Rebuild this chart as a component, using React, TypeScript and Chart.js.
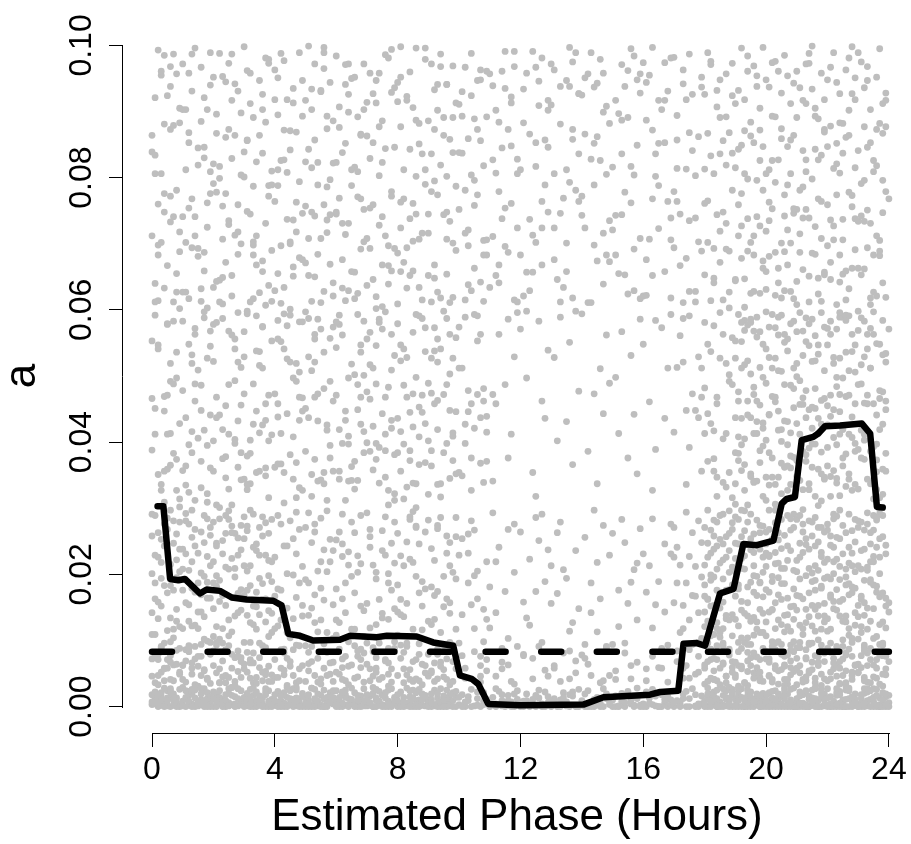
import React, { useEffect, useRef } from 'react';
import { Chart, registerables } from 'chart.js';

Chart.register(...registerables);

const FONT = '"Liberation Sans", Arial, Helvetica, sans-serif';

const xTickValues = [0, 4, 8, 12, 16, 20, 24];
const yTickValues = [0, 0.02, 0.04, 0.06, 0.08, 0.1];
const yTickLabels = ['0.00', '0.02', '0.04', '0.06', '0.08', '0.10'];
const xTitle = 'Estimated Phase (Hours)';
const yTitle = 'a';

// smoothed trend (black solid line)
const trendPhase = [0.18, 0.37, 0.59, 0.86, 1.07, 1.56, 1.78, 2.21, 2.6, 3.08, 3.95, 4.22, 4.44, 4.82, 5.25, 6.12, 6.45, 7.32, 7.65, 8.62, 9.16, 9.81, 10.03, 10.41, 10.63, 10.95, 11.99, 14.05, 14.7, 16.22, 16.55, 17.14, 17.31, 17.74, 18.01, 18.5, 18.94, 19.26, 19.7, 20.24, 20.51, 20.67, 20.94, 21.16, 21.54, 21.7, 21.92, 22.41, 23.12, 23.39, 23.61, 23.8];
const trendA = [0.0303, 0.0303, 0.0193, 0.0191, 0.0193, 0.0171, 0.0177, 0.0175, 0.0165, 0.0162, 0.016, 0.0153, 0.011, 0.0107, 0.01, 0.0101, 0.0107, 0.0105, 0.0107, 0.0106, 0.0097, 0.0092, 0.0047, 0.0042, 0.0034, 0.0004, 0.0002, 0.0003, 0.0014, 0.0018, 0.0022, 0.0024, 0.0095, 0.0096, 0.0092, 0.0171, 0.0178, 0.0246, 0.0244, 0.0251, 0.0307, 0.0314, 0.0317, 0.0403, 0.0408, 0.0413, 0.0424, 0.0425, 0.0428, 0.0413, 0.0302, 0.0301];

// dashed reference level
const thresholdPhase = [0, 24];
const thresholdA = [0.0083, 0.0083];

// scatter points as flat pairs: phase (tenths of an hour), a (units of 0.0001)
const topBand = [
0,712, 3,955, 1,640, 6,873, 8,781, 2,993, 5,667, 9,905, 4,748, 7,612, 0,839, 3,702, 6,968, 1,806, 8,655, 5,924, 2,760, 9,688, 4,881, 7,987, 2,614, 6,733,
13,694, 17,921, 11,627, 15,845, 19,776, 12,958, 18,603, 14,712, 16,885, 10,741, 13,987, 17,659, 11,812, 19,940, 15,681, 12,868, 18,725, 14,996, 16,632, 10,903, 13,768, 17,830,
22,645, 26,917, 21,778, 28,684, 24,861, 20,952, 27,713, 23,609, 29,804, 25,735, 22,988, 26,652, 21,896, 28,931, 24,672, 20,821, 27,864, 23,757, 29,700, 25,973, 22,799, 26,621,
33,703, 37,884, 31,962, 35,626, 39,810, 32,745, 38,979, 34,668, 36,903, 30,839, 33,617, 37,731, 31,856, 39,690, 35,947, 32,912, 38,772, 34,824, 36,658, 30,998, 33,787, 37,607,
41,655, 45,842, 43,977, 47,718, 49,893, 40,764, 42,610, 46,935, 48,679, 44,808, 41,951, 45,700, 43,634, 47,869, 49,746, 40,918, 42,826, 46,665, 48,989, 44,737, 41,788, 45,601,
52,903, 56,628, 54,789, 58,944, 50,671, 53,857, 57,736, 51,999, 55,611, 59,822, 52,748, 56,965, 54,684, 58,797, 50,917, 53,650, 57,874, 51,708, 55,930, 59,641, 52,815, 56,759,
63,614, 67,892, 61,769, 65,950, 69,703, 62,838, 66,657, 60,984, 64,731, 68,866, 63,941, 67,625, 61,907, 65,788, 69,972, 62,676, 66,816, 60,745, 64,899, 68,692, 63,852, 67,771,
74,803, 78,659, 72,927, 76,712, 70,863, 73,620, 77,981, 71,754, 75,886, 79,693, 74,958, 78,779, 72,646, 76,844, 70,708, 73,913, 77,667, 71,829, 75,605, 79,936, 74,728, 78,994,
81,724, 85,906, 83,633, 87,851, 89,979, 80,686, 82,812, 86,745, 84,960, 88,615, 81,877, 85,659, 83,923, 87,707, 89,790, 80,944, 82,672, 86,887, 84,738, 88,836, 81,998, 85,761,
92,668, 96,941, 94,819, 98,701, 90,886, 93,627, 97,858, 91,972, 95,744, 99,913, 92,795, 96,654, 94,987, 98,838, 90,716, 93,902, 97,611, 91,779, 95,864, 99,690, 92,933, 96,748,
103,721, 107,948, 101,837, 105,663, 109,892, 102,615, 106,774, 100,911, 104,988, 108,705, 103,859, 107,642, 101,930, 105,796, 109,683, 102,967, 106,873, 100,752, 104,629, 108,818,
112,902, 116,687, 114,845, 118,968, 110,634, 113,779, 117,922, 111,711, 115,991, 119,806, 112,652, 116,873, 114,738, 118,615, 110,957, 113,884, 117,761, 111,939, 115,696, 119,828,
121,934, 125,702, 123,866, 127,981, 129,748, 120,812, 122,657, 126,909, 124,991, 128,789, 121,621, 125,853, 123,737, 127,668, 129,917, 122,958,
133,881, 137,975, 131,724, 135,947, 139,836, 132,646, 136,793, 130,910, 134,769, 138,989, 133,612, 137,858, 131,963, 135,701, 139,927, 136,938,
142,957, 146,826, 144,698, 148,908, 140,772, 143,989, 147,639, 141,866, 145,943, 149,735, 142,611, 146,979, 144,852, 148,683, 140,925, 147,899,
151,743, 155,962, 153,887, 157,692, 159,928, 150,816, 152,655, 156,995, 154,778, 158,849, 151,917, 155,624, 153,971, 157,804, 159,708, 154,938,
163,872, 167,658, 161,944, 165,788, 169,981, 162,707, 166,903, 160,621, 164,836, 168,764, 163,997, 167,917, 161,676, 165,852, 169,739, 162,955,
172,745, 176,926, 174,678, 178,862, 170,982, 173,611, 177,803, 171,894, 175,735, 179,952, 172,667, 176,841, 174,918, 178,703, 170,779, 173,963, 177,628, 171,814, 175,987, 179,689,
181,702, 185,891, 183,648, 187,957, 189,781, 180,926, 182,833, 186,615, 184,744, 188,868, 181,989, 185,672, 183,806, 187,731, 189,924, 180,653, 182,971, 186,856, 184,907, 188,627, 181,765, 185,948, 183,693, 187,819,
192,678, 196,853, 194,961, 198,727, 190,815, 193,604, 197,938, 191,759, 195,884, 199,663, 192,996, 196,712, 194,798, 198,905, 190,646, 193,871, 197,741, 191,932, 195,625, 199,847, 192,776, 196,969, 194,689, 198,826,
203,622, 207,789, 201,937, 205,701, 209,864, 202,753, 206,985, 200,658, 204,827, 208,912, 203,687, 207,954, 201,735, 205,859, 209,617, 202,893, 206,774, 200,948, 204,641, 208,806, 203,976, 207,668, 201,812, 205,928, 209,746, 206,629,
212,661, 216,843, 214,973, 218,708, 210,891, 213,752, 217,624, 211,936, 215,798, 219,869, 212,917, 216,684, 214,739, 218,958, 210,643, 213,827, 217,889, 211,715, 215,999, 219,653, 212,786, 216,905, 214,612, 218,834, 210,961, 217,768,
221,878, 225,706, 223,944, 227,632, 229,815, 220,759, 222,989, 226,861, 224,683, 228,927, 221,646, 225,837, 223,774, 227,902, 229,691, 220,948, 222,727, 226,615, 224,883, 228,756, 221,967, 225,654, 223,852, 227,981, 229,738, 224,807,
232,734, 236,952, 234,618, 238,867, 231,791, 235,683, 239,928, 233,846, 237,705, 230,989, 232,662, 236,818, 234,903, 238,747, 231,975, 235,627, 239,779, 233,694, 237,882, 230,841, 232,936, 236,712, 234,853, 238,641, 240,768, 237,995,
];

const midBand = [
1,412, 5,578, 3,336, 8,497, 6,365, 2,541, 9,428, 4,309, 7,583, 0,466, 2,351, 6,519, 9,302, 4,447, 1,592, 7,383, 5,471, 8,327,
12,548, 16,371, 14,462, 18,309, 10,583, 13,416, 17,597, 11,335, 15,509, 19,441, 12,324, 16,486, 14,563, 18,395, 10,357, 13,532, 17,418, 19,568,
21,468, 25,329, 23,587, 27,404, 29,513, 20,356, 22,441, 26,562, 24,378, 28,596, 21,305, 25,487, 23,419, 27,541, 29,343, 20,578, 24,455, 28,362,
32,383, 36,574, 34,447, 38,316, 30,529, 33,488, 37,361, 31,598, 35,414, 39,553, 32,337, 36,426, 34,591, 38,471, 30,344, 35,516, 37,433, 31,379,
43,541, 47,369, 41,458, 45,592, 49,327, 42,413, 46,497, 40,362, 44,576, 48,433, 43,308, 47,519, 41,584, 45,381, 49,467, 42,552, 46,344, 48,506,
54,432, 58,557, 52,318, 56,481, 50,597, 53,374, 57,426, 51,529, 55,343, 59,462, 54,586, 58,395, 52,508, 56,337, 50,451, 53,563, 57,312, 59,574,
61,356, 65,518, 63,447, 67,593, 69,384, 60,471, 62,562, 66,329, 64,409, 68,536, 61,578, 65,363, 63,312, 67,449, 69,501, 60,582, 64,341, 68,427,
72,512, 76,347, 74,586, 78,433, 70,399, 73,546, 77,305, 71,465, 75,571, 79,381, 72,424, 76,597, 74,338, 78,509, 70,556, 73,374, 77,483, 79,322,
83,468, 87,591, 81,356, 85,423, 89,537, 82,314, 86,498, 80,579, 84,387, 88,445, 83,332, 87,408, 81,523, 85,566, 89,369, 82,486, 86,301, 80,436,
94,541, 98,372, 92,458, 96,587, 90,321, 93,419, 97,503, 91,364, 95,598, 99,446, 94,337, 98,527, 92,573, 96,398, 90,489, 93,556, 97,345, 91,474,
102,398, 106,553, 104,327, 108,481, 100,574, 103,446, 107,368, 101,512, 105,593, 109,415, 104,458, 108,339,
113,563, 117,412, 111,341, 115,487, 119,596, 112,458, 116,376, 118,529,
122,497, 126,583, 124,354, 128,436, 120,571, 125,318, 127,462, 129,539,
131,528, 135,431, 133,589, 137,366, 139,477, 132,402, 136,551, 138,598,
144,473, 148,562, 142,386, 146,511, 140,594, 145,337, 147,443, 149,489,
153,567, 157,442, 151,498, 155,376, 159,586, 152,413, 156,531, 158,352,
162,461, 166,573, 164,389, 168,512, 160,548, 163,327, 167,436, 169,593,
171,513, 175,392, 173,587, 177,448, 179,356, 172,561, 176,473, 170,415, 174,336, 178,529, 175,591, 179,468,
182,428, 186,563, 184,347, 188,492, 180,581, 183,375, 187,519, 181,443, 185,596, 189,316, 182,537, 186,405, 184,468, 188,354, 180,413, 183,576, 187,332, 189,487,
191,476, 195,352, 193,584, 197,431, 199,318, 190,527, 192,396, 196,568, 194,441, 198,369, 191,593, 195,503, 193,327, 197,462, 199,548, 190,384, 192,512, 196,339, 194,577, 198,456, 191,408, 195,437, 193,366, 197,589, 199,421, 190,306, 192,552, 196,483,
201,441, 205,368, 203,527, 207,396, 209,583, 200,312, 202,469, 206,551, 204,347, 208,486, 201,574, 205,419, 203,306, 207,538, 209,452, 200,597, 202,376, 206,432, 204,508, 208,361, 201,335, 205,592, 203,468, 207,327, 209,377, 200,489, 204,562, 208,414,
212,386, 216,523, 214,449, 218,311, 210,567, 213,478, 217,359, 211,412, 215,586, 219,344, 212,531, 216,397, 214,328, 218,463, 210,499, 213,371, 217,547, 211,596, 215,421, 219,508, 212,457, 216,318, 214,579, 218,385, 210,348, 213,552, 217,436, 215,362,
221,348, 225,497, 223,571, 227,412, 229,336, 220,455, 222,528, 226,382, 224,319, 228,563, 221,439, 225,376, 223,484, 227,591, 229,458, 220,364, 222,407, 226,536, 224,472, 228,327, 221,583, 225,421, 223,345, 227,508, 229,398, 220,547, 224,589, 226,469,
232,412, 236,549, 234,337, 238,476, 231,588, 235,393, 239,521, 233,458, 237,316, 230,569, 232,374, 236,441, 234,512, 238,359, 231,427, 235,597, 239,383, 233,541, 237,466, 230,329, 232,583, 236,355, 234,403, 238,532, 231,488, 235,314, 239,449, 240,571,
];

const upperBandExtra = [
4,356, 8,627, 1,834, 6,492, 3,961, 9,718, 0,553, 5,412, 7,879, 2,683, 9,314, 4,776,
14,488, 18,762, 11,903, 16,331, 12,617, 19,545, 10,972, 15,693, 13,384, 17,846, 11,437, 19,989,
23,707, 27,398, 21,581, 25,873, 29,456, 20,634, 24,945, 28,521, 22,817, 26,305, 20,402, 28,759,
32,612, 36,926, 30,473, 34,354, 38,788, 31,857, 35,537, 39,411, 33,698, 37,981, 31,328, 36,575,
41,438, 45,703, 49,582, 43,872, 47,316, 40,963, 44,526, 48,794, 42,367, 46,651, 41,895, 49,447,
53,742, 57,418, 51,587, 55,932, 59,356, 50,824, 54,473, 58,669, 52,351, 56,997, 53,521, 57,786,
64,397, 68,864, 62,633, 66,502, 60,748, 63,971, 67,342, 61,419, 65,812, 69,583, 64,926, 68,468,
72,853, 76,468, 70,637, 74,392, 78,929, 71,566, 75,741, 79,312, 73,488, 77,697, 71,958, 76,387,
81,547, 85,338, 89,812, 83,694, 87,453, 80,915, 84,372, 88,587, 82,768, 86,996, 81,416, 87,634,
93,463, 97,734, 91,387, 95,891, 99,558, 90,652, 94,317, 98,969, 92,538, 96,802, 93,941, 98,414,
102,781, 106,472, 104,924, 108,613, 100,354, 103,697, 107,856, 109,439,
113,641, 117,848, 111,472, 115,935, 119,724, 112,807, 116,586, 118,991,
124,713, 128,857, 122,598, 126,946, 120,683, 125,817, 127,764, 129,902,
131,806, 135,658, 139,927, 133,746, 137,873, 130,972, 134,634, 138,781,
143,828, 147,716, 141,951, 145,674, 149,882, 140,743, 144,937, 148,805,
152,897, 156,762, 154,653, 158,948, 150,721, 153,836, 157,984, 159,617,
161,622, 165,917, 163,768, 167,853, 169,706, 160,974, 164,584, 168,931,
171,857, 175,628, 173,942, 177,739, 179,512, 170,694, 174,813, 178,437,
181,548, 185,836, 183,417, 187,692, 189,973, 180,761, 184,318, 188,603,
190,337, 191,462, 192,581, 193,405, 194,523, 195,348, 196,472, 197,559, 198,387, 199,498, 190,553, 191,372, 192,436, 193,517, 194,305, 195,586, 196,413, 197,341, 198,567, 199,429,
200,403, 201,528, 202,347, 203,461, 204,589, 205,322, 206,487, 207,556, 208,379, 209,512, 200,541, 201,384, 202,593, 203,336, 204,447, 205,507, 206,362, 207,431, 208,579, 209,318,
210,519, 211,342, 212,467, 213,588, 214,391, 215,453, 216,561, 217,304, 218,427, 219,574, 210,372, 211,493, 212,328, 213,437, 214,546, 215,397, 216,481, 217,533, 218,352, 219,466,
220,426, 221,563, 222,357, 223,498, 224,412, 225,589, 226,333, 227,471, 228,537, 229,386, 220,572, 221,318, 222,449, 223,396, 224,527, 225,364, 226,592, 227,344, 228,438, 229,506,
230,487, 231,376, 232,529, 233,344, 234,572, 235,458, 236,397, 237,548, 238,321, 239,462, 230,598, 231,517, 232,403, 233,471, 234,386, 235,563, 236,328, 237,419, 238,584, 239,356,
191,712, 195,863, 193,647, 197,954, 199,781, 190,912, 194,738, 198,625, 192,849, 196,683, 199,997, 193,806,
201,763, 205,618, 203,892, 207,721, 209,943, 200,806, 204,663, 208,857, 202,974, 206,742, 200,631, 208,701,
211,687, 215,934, 213,809, 217,648, 219,873, 210,752, 214,988, 218,613, 212,841, 216,726, 219,657, 213,912,
222,814, 226,659, 224,927, 228,773, 220,697, 223,608, 227,864, 229,951, 221,736, 225,882, 224,642, 228,998,
231,653, 235,809, 233,947, 237,682, 239,877, 230,734, 234,608, 238,912, 232,796, 236,873, 239,619, 233,751,
];

const upperBandMore = [
0,388, 1,921, 2,547, 3,806, 4,633, 5,359, 6,772, 7,488, 8,957, 9,602, 0,864, 1,451, 2,698, 3,327, 4,985, 5,579, 6,413, 7,741, 8,536, 9,883, 1,612, 4,469, 6,938, 8,374,
10,627, 11,364, 12,853, 13,519, 14,741, 15,406, 16,967, 17,588, 18,322, 19,809, 10,478, 11,702, 12,396, 13,931, 14,572, 15,819, 16,448, 17,687, 18,903, 19,361, 12,754, 14,312, 16,613, 18,527,
20,791, 21,437, 22,612, 23,953, 24,346, 25,568, 26,829, 27,493, 28,718, 29,384, 20,522, 21,867, 22,301, 23,649, 24,776, 25,412, 26,987, 27,556, 28,432, 29,898, 21,643, 23,375, 25,729, 27,942,
30,567, 31,749, 32,403, 33,891, 34,538, 35,356, 36,674, 37,458, 38,973, 39,613, 30,801, 31,336, 32,958, 33,427, 34,712, 35,864, 36,512, 37,349, 38,637, 39,789, 31,594, 33,683, 36,837, 38,402,
40,473, 41,812, 42,697, 43,354, 44,918, 45,521, 46,408, 47,763, 48,582, 49,947, 40,629, 41,367, 42,988, 43,594, 44,443, 45,871, 46,736, 47,492, 48,331, 49,676, 41,556, 43,827, 46,913, 48,468,
50,386, 51,652, 52,934, 53,468, 54,823, 55,571, 56,354, 57,717, 58,492, 59,886, 50,757, 51,437, 52,613, 53,972, 54,341, 55,708, 56,536, 57,893, 58,376, 59,621, 51,843, 53,556, 56,989, 58,744,
60,543, 61,876, 62,398, 63,714, 64,629, 65,342, 66,952, 67,487, 68,768, 69,416, 60,823, 61,592, 62,731, 63,433, 64,972, 65,658, 66,371, 67,809, 68,547, 69,903, 61,344, 64,497, 66,617, 69,752,
70,476, 71,693, 72,358, 73,947, 74,581, 75,823, 76,412, 77,639, 78,772, 79,531, 70,914, 71,386, 72,759, 73,602, 74,877, 75,443, 76,986, 77,327, 78,563, 79,846, 71,517, 73,398, 75,668, 78,421,
80,384, 81,763, 82,541, 83,917, 84,652, 85,473, 86,337, 87,882, 88,716, 89,428, 80,609, 81,952, 82,397, 83,528, 84,843, 85,704, 86,593, 87,366, 88,471, 89,996, 81,658, 84,445, 86,802, 89,573,
90,745, 91,527, 92,873, 93,336, 94,618, 95,472, 96,941, 97,563, 98,409, 99,787, 90,402, 91,836, 92,648, 93,521, 94,968, 95,384, 96,707, 97,448, 98,891, 99,352, 91,612, 93,774, 96,487, 98,619,
100,512, 101,893, 102,427, 103,638, 104,376, 105,758, 106,591, 107,963, 108,462, 109,706, 100,838, 101,349, 102,716, 103,478, 104,804, 105,421, 106,947, 107,563, 108,683, 109,371, 102,589, 105,889, 107,437, 109,961,
111,827, 113,668, 115,754, 117,913, 119,612, 114,961,
121,883, 123,629, 125,967, 127,724, 129,846, 124,657,
131,676, 133,938, 135,812, 137,618, 139,764, 136,997,
141,724, 143,611, 145,862, 147,958, 149,673, 144,789,
151,683, 153,744, 155,891, 157,629, 159,957, 156,817,
161,887, 163,652, 165,723, 167,974, 169,618, 164,802,
171,764, 173,521, 175,868, 177,612, 179,937, 174,448,
180,482, 181,867, 182,614, 183,356, 184,932, 185,527, 186,748, 187,413, 188,689, 189,558, 180,813, 181,371, 182,976, 183,641, 184,458, 185,719, 186,339, 187,892, 188,502, 189,837,
190,644, 191,383, 192,727, 193,918, 194,462, 195,581, 196,341, 197,796, 198,513, 199,674, 190,437, 191,843, 192,357, 193,569, 194,984, 195,702, 196,628, 197,413, 198,872, 199,394,
200,347, 201,681, 202,512, 203,793, 204,418, 205,874, 206,563, 207,364, 208,628, 209,481, 200,719, 201,442, 202,826, 203,573, 204,961, 205,401, 206,688, 207,847, 208,336, 209,753,
210,608, 211,457, 212,739, 213,381, 214,651, 215,522, 216,893, 217,413, 218,764, 219,347, 210,428, 211,781, 212,568, 213,972, 214,337, 215,686, 216,451, 217,827, 218,596, 219,918,
220,392, 221,672, 222,519, 223,821, 224,446, 225,737, 226,584, 227,352, 228,663, 229,918, 220,847, 221,471, 222,706, 223,338, 224,596, 225,419, 226,963, 227,778, 228,407, 229,547,
230,663, 231,418, 232,877, 233,563, 234,731, 235,342, 236,621, 237,478, 238,796, 239,534, 230,389, 231,742, 232,459, 233,968, 234,512, 235,826, 236,373, 237,689, 238,427, 239,917,
];

const lowBand = [
2,47, 6,183, 4,96, 8,261, 0,142, 3,218, 7,63, 1,289, 5,115, 9,204, 2,158, 6,77, 4,243, 8,129, 0,291, 3,52, 7,176, 1,109, 5,268, 9,88, 2,226, 6,134, 4,39, 8,195, 0,72, 3,253, 7,117, 1,187, 5,58, 9,279,
13,122, 17,248, 11,69, 15,187, 19,35, 12,276, 16,143, 10,208, 14,91, 18,164, 13,297, 17,54, 11,231, 15,118, 19,259, 12,83, 16,202, 10,41, 14,268, 18,99, 13,179, 17,136, 11,292, 15,61, 19,213, 12,154, 16,76, 10,238, 14,173, 18,284,
24,211, 28,84, 22,159, 26,273, 20,106, 23,45, 27,196, 21,247, 25,131, 29,68, 24,289, 28,171, 22,57, 26,224, 20,187, 23,118, 27,262, 21,93, 25,208, 29,146, 24,36, 28,255, 22,102, 26,165, 20,279, 23,231, 27,74, 21,182, 25,283, 29,237,
31,176, 35,59, 33,241, 37,128, 39,283, 30,97, 32,213, 36,162, 34,44, 38,198, 31,266, 35,139, 33,81, 37,229, 39,112, 30,254, 32,66, 36,287, 34,151, 38,38, 31,205, 35,271, 33,124, 37,53, 39,189, 30,168, 32,297, 36,92, 34,236, 38,145,
42,131, 46,254, 44,73, 48,187, 40,226, 43,48, 47,165, 41,289, 45,104, 49,212, 42,276, 46,86, 44,149, 48,57, 40,118, 43,243, 47,294, 41,178, 45,61, 49,137, 44,201, 47,36,
53,264, 57,112, 51,187, 55,42, 59,236, 52,149, 56,83, 50,271, 54,205, 58,66, 53,127, 57,296, 51,54, 55,179, 59,103, 52,248, 56,161, 50,92, 54,37, 58,219, 55,285, 51,138,
64,98, 68,216, 62,163, 66,43, 60,252, 63,187, 67,76, 61,127, 65,279, 69,145, 64,234, 68,59, 62,291, 66,172, 60,108, 63,39, 67,203, 61,264, 65,117, 69,81, 62,227, 68,152,
71,241, 75,134, 73,58, 77,187, 79,279, 70,96, 72,214, 76,71, 74,162, 78,37, 71,119, 75,266, 73,203, 77,88, 79,148, 70,293, 72,46, 76,229, 74,104, 78,176, 71,257, 77,132,
83,156, 87,39, 81,228, 85,117, 89,264, 82,82, 86,197, 80,143, 84,287, 88,64, 83,249, 87,172, 81,93, 85,218, 89,51, 82,136, 86,273, 80,108, 84,41, 88,189, 85,295, 81,162,
94,67, 98,203, 92,132, 96,258, 90,46, 93,174, 97,97, 91,239, 95,151, 99,286, 94,112, 98,38, 92,221, 96,163, 90,282, 93,79, 97,248, 91,124, 95,56, 99,193, 93,269, 97,141,
103,187, 107,62, 101,254, 105,118, 109,219, 102,43, 106,163, 100,96, 104,281, 108,147, 103,232, 107,76, 101,139, 105,267, 109,54, 106,205,
112,142, 116,268, 114,67, 118,203, 110,119, 113,241, 117,38, 115,174, 119,91, 111,293,
123,223, 127,97, 121,158, 125,286, 129,46, 122,134, 126,251, 124,73, 128,189, 120,264,
134,81, 138,236, 132,171, 136,42, 130,213, 133,279, 137,127, 131,58, 135,194, 139,148,
141,256, 145,113, 143,187, 147,39, 149,229, 140,78, 144,297, 146,163, 148,91, 142,64,
152,176, 156,62, 154,248, 158,131, 150,94, 153,283, 157,207, 151,41, 155,156, 159,269,
163,119, 167,246, 161,57, 165,189, 169,276, 162,213, 166,88, 164,154, 168,37, 160,231,
171,84, 175,227, 173,153, 177,49, 179,196, 170,271, 172,112, 176,168, 174,294, 178,76, 171,241, 175,131, 173,58, 177,212, 179,103, 174,187, 176,263, 178,142,
181,96, 185,217, 183,153, 187,46, 189,268, 180,184, 182,71, 186,291, 184,127, 188,203, 181,247, 185,58, 183,109, 187,176, 189,139, 180,34, 182,232, 186,118, 184,279, 188,87, 181,162, 185,253, 183,41, 187,226, 189,68, 180,143, 182,191, 186,64, 184,208, 188,262, 181,297, 185,105, 183,282, 187,133, 189,184,
192,146, 196,261, 194,53, 198,187, 190,224, 193,97, 197,168, 191,283, 195,129, 199,38, 192,209, 196,76, 194,245, 198,112, 190,167, 193,296, 197,59, 191,184, 195,237, 199,141, 192,88, 196,198, 194,157, 198,274, 190,44, 193,228, 197,117, 191,62, 195,291, 199,203, 192,257, 196,135, 194,82, 198,44, 191,216,
203,118, 207,243, 201,72, 205,186, 209,152, 200,264, 202,41, 206,209, 204,131, 208,93, 203,278, 207,164, 201,227, 205,56, 209,291, 200,107, 202,189, 206,138, 204,252, 208,69, 203,216, 207,34, 201,173, 205,283, 209,98, 200,232, 202,146, 206,61, 204,195, 208,267, 203,86, 207,121, 205,239, 201,297, 209,178,
211,193, 215,67, 213,254, 217,137, 219,42, 210,221, 212,109, 216,286, 214,172, 218,84, 211,247, 215,153, 213,39, 217,206, 219,128, 210,73, 212,264, 216,191, 214,96, 218,233, 211,51, 215,279, 213,147, 217,62, 219,218, 210,168, 212,298, 216,114, 214,238, 218,179, 211,123, 215,202, 213,86, 217,271, 219,156,
222,148, 226,36, 224,212, 228,103, 220,267, 223,177, 227,241, 221,82, 225,129, 229,283, 222,57, 226,196, 224,159, 228,232, 220,114, 223,46, 227,169, 221,258, 225,91, 229,204, 222,291, 226,137, 224,68, 228,181, 220,223, 223,256, 227,108, 221,193, 225,274, 229,142, 222,219, 226,78, 224,297, 228,52, 221,165,
233,211, 237,94, 231,162, 235,267, 239,48, 230,136, 232,238, 236,173, 234,71, 238,289, 233,117, 237,226, 231,59, 235,184, 239,152, 230,271, 232,89, 236,43, 234,246, 238,128, 233,293, 237,166, 231,208, 235,103, 239,231, 230,64, 232,157, 236,282, 234,192, 238,77, 233,37, 237,254, 240,143, 235,219, 231,121,
];

const lowBandExtra = [
1,163, 5,71, 9,238, 3,194, 7,281, 0,109, 4,57, 8,147, 2,263, 6,215, 1,36, 5,172, 9,121, 3,89, 7,247, 0,201, 4,276, 8,64, 2,133, 6,98, 1,229, 5,285, 9,49, 3,152, 7,104, 0,258, 4,183, 8,222, 2,79, 6,297,
11,157, 15,232, 19,97, 13,58, 17,289, 10,176, 14,123, 18,41, 12,206, 16,264, 11,86, 15,143, 19,271, 13,219, 17,102, 10,63, 14,243, 18,188, 12,129, 16,47, 11,281, 15,76, 19,164, 13,256, 17,197, 10,118, 14,33, 18,227, 12,92, 16,169,
20,62, 24,153, 28,229, 22,284, 26,113, 21,198, 25,44, 29,177, 23,251, 27,137, 20,219, 24,86, 28,142, 22,36, 26,263, 21,121, 25,296, 29,74, 23,168, 27,209, 20,148, 24,262, 28,53, 22,191, 26,79, 21,243, 25,107, 29,274, 23,96, 27,38,
30,213, 34,117, 38,262, 32,71, 36,186, 31,138, 35,229, 39,48, 33,291, 37,163, 30,64, 34,246, 38,106, 32,183, 36,39, 31,273, 35,96, 39,219, 33,152, 37,83, 30,287, 34,173, 38,221, 32,127, 36,258, 31,52, 35,194, 39,141, 33,36, 37,278,
40,167, 44,243, 48,92, 42,58, 46,199, 41,122, 45,281, 49,153, 43,87, 47,231, 40,44, 44,112, 48,268, 42,176, 46,133,
51,82, 55,219, 59,154, 53,276, 57,47, 50,192, 54,113, 58,253, 52,68, 56,237, 51,293, 55,131, 59,38, 53,169, 57,204,
62,246, 66,117, 60,178, 64,61, 68,289, 63,142, 67,228, 61,49, 65,197, 69,106, 62,72, 66,263, 60,131, 64,214, 68,87,
73,193, 77,66, 71,268, 75,141, 79,217, 72,89, 76,287, 70,156, 74,41, 78,247, 73,124, 77,201, 71,57, 75,236, 79,98,
84,223, 88,116, 82,57, 86,271, 80,184, 83,96, 87,246, 81,139, 85,38, 89,178, 84,283, 88,152, 82,213, 86,71, 80,262,
91,181, 95,93, 99,257, 93,42, 97,213, 90,129, 94,286, 98,68, 92,168, 96,232, 91,51, 95,197, 99,117, 93,274, 97,157,
101,77, 105,198, 109,132, 103,261, 107,46, 100,229, 104,154, 108,98,
112,219, 116,103, 114,57, 118,276, 110,181,
121,79, 125,174, 129,237, 123,123, 127,291,
132,263, 136,114, 130,156, 134,207, 138,69,
143,142, 147,274, 141,94, 145,218, 149,47,
154,96, 158,217, 150,262, 152,121, 156,188,
161,173, 165,59, 169,231, 163,284, 167,143,
172,214, 176,94, 170,157, 174,62, 178,281, 171,187, 175,43, 179,248, 173,118, 177,167, 170,226, 178,97,
180,58, 182,152, 184,243, 186,96, 188,177, 181,226, 183,73, 185,289, 187,138, 189,211, 180,121, 182,267, 184,39, 186,193, 188,84, 181,163, 183,238, 185,112, 187,257, 189,52, 180,214, 182,107, 184,176, 186,246, 188,131, 181,68, 183,196, 185,149, 187,83, 189,278, 180,271, 182,43, 184,92, 186,222, 188,296, 181,129, 183,258, 185,173, 187,36, 189,107, 180,167, 184,118, 186,158, 188,236, 182,199,
190,132, 192,224, 194,104, 196,51, 198,238, 191,178, 193,266, 195,74, 197,197, 199,112, 190,287, 192,61, 194,181, 196,233, 198,147, 191,97, 193,36, 195,254, 197,128, 199,273, 190,204, 192,159, 194,279, 196,108, 198,71, 191,246, 193,141, 195,188, 197,49, 199,226, 190,67, 192,297, 194,137, 196,173, 198,263, 191,122, 193,208, 195,94, 197,282, 199,166, 190,247, 192,104, 194,32, 196,213, 198,188,
200,177, 202,98, 204,263, 206,41, 208,151, 201,229, 203,62, 205,124, 207,289, 209,206, 200,83, 202,253, 204,169, 206,113, 208,236, 201,143, 203,297, 205,209, 207,78, 209,132, 200,246, 202,37, 204,98, 206,186, 208,59, 201,268, 203,157, 205,94, 207,221, 209,271, 200,128, 202,197, 204,54, 206,259, 208,114, 201,47, 203,233, 205,162, 207,139, 209,83, 200,212, 202,147, 204,217, 206,76, 208,284,
210,146, 212,233, 214,54, 216,176, 218,271, 211,97, 213,198, 215,122, 217,249, 219,68, 210,283, 212,163, 214,209, 216,36, 218,117, 211,226, 213,72, 215,258, 217,153, 219,194, 210,89, 212,41, 214,136, 216,243, 218,182, 211,289, 213,127, 215,56, 217,101, 219,264, 210,204, 212,118, 214,281, 216,147, 218,49, 211,167, 213,245, 215,189, 217,76, 219,137, 210,33, 212,276, 214,94, 216,213, 218,227,
220,196, 222,73, 224,254, 226,128, 228,41, 221,169, 223,288, 225,101, 227,217, 229,62, 220,133, 222,241, 224,87, 226,184, 228,266, 221,52, 223,146, 225,231, 227,118, 229,179, 220,276, 222,159, 224,34, 226,208, 228,97, 221,244, 223,63, 225,162, 227,291, 229,123, 220,88, 222,201, 224,137, 226,263, 228,172, 221,117, 223,223, 225,47, 227,186, 229,249, 220,39, 222,284, 224,192, 226,81, 228,213,
230,102, 232,191, 234,263, 236,58, 238,172, 231,236, 233,81, 235,148, 237,292, 239,119, 230,213, 232,44, 234,129, 236,241, 238,96, 231,167, 233,276, 235,63, 237,201, 239,244, 230,153, 232,267, 234,36, 236,182, 238,257, 231,112, 233,206, 235,289, 237,78, 239,164, 230,52, 232,138, 234,219, 236,106, 238,31, 231,279, 233,149, 235,227, 237,124, 239,76, 230,281, 232,93, 234,188, 236,286, 240,157,
];

const lowZoneMore = [
0,46, 1,78, 2,33, 3,91, 4,58, 5,24, 6,67, 7,39, 8,85, 9,52, 2,71, 6,41,
10,62, 11,37, 12,88, 13,49, 14,72, 15,31, 16,94, 17,56, 18,43, 19,79, 13,66, 17,27,
20,84, 21,51, 22,36, 23,69, 24,47, 25,92, 26,58, 27,32, 28,76, 29,44, 21,97, 26,29,
30,57, 31,82, 32,43, 33,66, 34,35, 35,74, 36,52, 37,89, 38,61, 39,38, 32,97, 37,48,
40,71, 41,44, 42,86, 43,55, 44,32, 45,68, 46,47, 47,93, 48,39, 49,62, 43,81, 47,29,
50,38, 51,65, 52,91, 53,47, 54,73, 55,34, 56,58, 57,82, 58,49, 59,67, 52,28, 56,95,
60,52, 61,87, 62,41, 63,76, 64,33, 65,63, 66,92, 67,45, 68,71, 69,37, 62,59, 67,84,
70,64, 71,39, 72,83, 73,52, 74,96, 75,44, 76,69, 77,31, 78,57, 79,88, 73,74, 77,49,
80,47, 81,73, 82,36, 83,91, 84,56, 85,68, 86,42, 87,79, 88,33, 89,62, 83,48, 87,95,
90,79, 91,54, 92,38, 93,87, 94,61, 95,45, 96,72, 97,33, 98,93, 99,57, 92,66, 96,41,
102,58, 105,83, 107,37, 109,71, 112,46, 114,88, 116,63, 118,34,
121,77, 124,42, 126,91, 128,55, 131,62, 133,38, 136,84, 138,51,
141,73, 143,47, 146,36, 148,89, 151,54, 154,81, 156,42, 158,67,
161,39, 163,76, 166,58, 168,93, 171,68, 173,43, 175,86, 178,52,
180,63, 181,38, 182,87, 183,54, 184,71, 185,33, 186,92, 187,46, 188,78, 189,59, 181,97, 183,41, 186,66, 188,29,
190,48, 191,83, 192,57, 193,36, 194,94, 195,62, 196,43, 197,75, 198,52, 199,88, 191,31, 194,69, 196,81, 198,39,
200,72, 201,46, 202,91, 203,57, 204,34, 205,79, 206,63, 207,41, 208,85, 209,53, 201,67, 203,96, 206,32, 208,48,
210,58, 211,89, 212,37, 213,74, 214,51, 215,96, 216,43, 217,67, 218,32, 219,81, 211,62, 213,45, 216,77, 218,93,
220,83, 221,42, 222,66, 223,91, 224,35, 225,72, 226,54, 227,87, 228,47, 229,63, 221,96, 224,58, 226,31, 228,76,
230,51, 231,77, 232,39, 233,62, 234,88, 235,45, 236,71, 237,34, 238,93, 239,57, 240,68, 232,84, 235,27, 238,49,
];

const baseBand = [
0,3, 1,12, 2,0, 3,21, 4,6, 5,1, 6,15, 7,9, 8,0, 9,26, 0,18, 1,4, 2,9, 3,2, 4,28, 5,13, 6,0, 7,19, 8,7, 9,1, 3,11, 6,24,
10,8, 11,0, 12,17, 13,4, 14,25, 15,1, 16,10, 17,0, 18,21, 19,6, 10,29, 11,14, 12,2, 13,19, 14,0, 15,9, 16,27, 17,5, 18,12, 19,0, 12,23, 16,3,
20,0, 21,19, 22,5, 23,11, 24,0, 25,27, 26,3, 27,15, 28,1, 29,8, 20,22, 21,2, 22,14, 23,0, 24,18, 25,6, 26,29, 27,1, 28,12, 29,24, 22,9, 27,4,
30,14, 31,1, 32,26, 33,7, 34,0, 35,16, 36,4, 37,22, 38,0, 39,11, 30,3, 31,20, 32,0, 33,28, 34,9, 35,2, 36,13, 37,0, 38,24, 39,5, 33,17, 36,0,
40,2, 41,23, 42,9, 43,0, 44,14, 45,4, 46,27, 47,1, 48,11, 49,0, 40,18, 41,6, 42,0, 43,21, 44,3, 45,12, 46,0, 47,25, 48,5, 49,16, 44,29, 47,8,
50,0, 51,10, 52,3, 53,26, 54,1, 55,17, 56,0, 57,8, 58,21, 59,4, 50,13, 51,0, 52,28, 53,6, 54,19, 55,0, 56,11, 57,2, 58,15, 59,24, 53,0, 57,14,
60,7, 61,0, 62,19, 63,2, 64,12, 65,28, 66,0, 67,5, 68,16, 69,1, 60,24, 61,9, 62,0, 63,14, 64,3, 65,6, 66,21, 67,0, 68,10, 69,27, 63,18, 66,4,
70,1, 71,16, 72,0, 73,9, 74,23, 75,3, 76,13, 77,0, 78,27, 79,6, 70,11, 71,2, 72,20, 73,0, 74,8, 75,17, 76,1, 77,25, 78,4, 79,14, 72,29, 76,0,
80,0, 81,22, 82,6, 83,1, 84,15, 85,0, 86,9, 87,26, 88,2, 89,12, 80,18, 81,4, 82,0, 83,28, 84,7, 85,13, 86,0, 87,3, 88,19, 89,1, 84,24, 87,10,
90,11, 91,0, 92,25, 93,4, 94,0, 95,16, 96,2, 97,8, 98,21, 99,0, 90,6, 91,19, 92,1, 93,13, 94,27, 95,3, 96,0, 97,17, 98,9, 99,23, 93,0, 96,12,
100,3, 101,18, 102,0, 103,9, 104,26, 105,1, 106,12, 107,0, 108,21, 109,5, 101,0, 103,15, 106,2, 108,8,
110,0, 111,14, 112,4, 113,23, 114,1, 115,0, 116,17, 117,7, 118,0, 119,11, 112,27, 114,9, 116,2, 118,19,
120,6, 121,0, 122,19, 123,2, 124,11, 125,0, 126,25, 127,4, 128,0, 129,15, 121,8, 123,0, 126,13, 128,22,
130,0, 131,12, 132,3, 133,0, 134,21, 135,7, 136,0, 137,16, 138,1, 139,26, 131,5, 133,10, 136,18, 138,0,
140,9, 141,0, 142,24, 143,2, 144,0, 145,14, 146,5, 147,0, 148,19, 149,3, 142,0, 144,11, 147,27, 149,8,
150,0, 151,16, 152,1, 153,8, 154,0, 155,23, 156,4, 157,0, 158,12, 159,2, 151,0, 153,20, 156,10, 158,28,
160,4, 161,0, 162,13, 163,26, 164,1, 165,0, 166,18, 167,6, 168,0, 169,10, 161,22, 163,3, 166,0, 168,15,
170,0, 171,9, 172,2, 173,19, 174,0, 175,12, 176,27, 177,1, 178,0, 179,16, 172,6, 174,23, 177,0, 179,4,
180,0, 181,13, 182,3, 183,22, 184,0, 185,7, 186,17, 187,1, 188,0, 189,26, 180,9, 181,0, 182,19, 183,5, 184,12, 185,0, 186,2, 187,24, 188,8, 189,0, 181,28, 183,15, 185,4, 187,11, 189,18, 184,1,
190,2, 191,16, 192,0, 193,9, 194,24, 195,0, 196,5, 197,13, 198,0, 199,20, 190,11, 191,0, 192,27, 193,3, 194,0, 195,14, 196,1, 197,19, 198,7, 199,0, 191,23, 193,0, 195,8, 197,4, 199,12, 194,17,
200,0, 201,21, 202,6, 203,0, 204,14, 205,2, 206,27, 207,0, 208,10, 209,4, 200,17, 201,1, 202,0, 203,24, 204,8, 205,0, 206,12, 207,19, 208,0, 209,28, 201,9, 203,3, 205,15, 207,5, 209,0, 206,22,
210,12, 211,0, 212,18, 213,3, 214,0, 215,25, 216,7, 217,0, 218,14, 219,1, 210,0, 211,22, 212,5, 213,0, 214,16, 215,2, 216,29, 217,9, 218,0, 219,19, 212,0, 214,11, 216,0, 218,26, 210,6, 215,13,
220,0, 221,15, 222,2, 223,0, 224,23, 225,6, 226,0, 227,12, 228,1, 229,19, 220,27, 221,4, 222,0, 223,17, 224,0, 225,10, 226,25, 227,0, 228,8, 229,2, 221,0, 223,21, 225,0, 227,28, 229,11, 224,5,
230,4, 231,0, 232,20, 233,1, 234,11, 235,0, 236,26, 237,3, 238,0, 239,15, 230,0, 231,18, 232,0, 233,9, 234,24, 235,2, 236,0, 237,13, 238,21, 239,0, 240,6, 231,5, 233,27, 235,14, 237,0, 240,17,
];

const baseBandExtra = [
0,7, 1,22, 2,4, 3,15, 4,0, 5,9, 6,27, 7,2, 8,13, 9,0, 2,18, 7,11,
10,1, 11,24, 12,8, 13,0, 14,13, 15,5, 16,19, 17,2, 18,0, 19,15, 13,26, 17,9,
20,12, 21,0, 22,24, 23,5, 24,9, 25,1, 26,17, 27,0, 28,27, 29,3, 21,8, 25,20,
30,0, 31,9, 32,14, 33,0, 34,22, 35,6, 36,1, 37,18, 38,8, 39,0, 32,4, 37,27,
40,9, 41,0, 42,16, 43,5, 44,0, 45,24, 46,3, 47,13, 48,0, 49,20, 42,2, 46,11,
50,5, 51,18, 52,0, 53,12, 54,8, 55,2, 56,25, 57,0, 58,6, 59,14, 51,4, 56,0,
60,0, 61,14, 62,5, 63,25, 64,0, 65,11, 66,2, 67,17, 68,0, 69,8, 62,22, 67,9,
70,18, 71,6, 72,0, 73,13, 74,2, 75,0, 76,21, 77,8, 78,0, 79,10, 73,26, 77,4,
80,9, 81,0, 82,14, 83,4, 84,0, 85,25, 86,3, 87,0, 88,11, 89,17, 82,7, 86,21,
90,0, 91,10, 92,3, 93,20, 94,7, 95,0, 96,25, 97,1, 98,0, 99,14, 91,5, 95,9,
100,14, 102,7, 104,0, 106,22, 108,3, 109,11,
110,5, 112,0, 114,18, 116,9, 117,0, 119,24,
120,0, 122,9, 124,4, 125,17, 127,0, 129,6,
130,8, 132,0, 134,13, 135,1, 137,22, 139,0,
140,3, 141,19, 143,0, 145,7, 146,0, 148,12,
150,10, 152,0, 154,6, 155,17, 157,2, 159,0,
160,0, 162,5, 164,16, 165,0, 167,11, 169,3,
170,6, 172,0, 173,12, 175,0, 177,18, 178,4,
180,4, 181,19, 182,0, 183,10, 184,25, 185,1, 186,0, 187,14, 188,3, 189,21, 182,8, 184,0, 186,27, 188,12,
190,0, 191,9, 192,14, 193,0, 194,6, 195,22, 196,0, 197,3, 198,17, 199,5, 191,28, 193,12, 196,8, 198,0,
200,8, 201,0, 202,23, 203,11, 204,0, 205,4, 206,16, 207,1, 208,26, 209,0, 202,13, 204,19, 206,0, 208,5,
210,0, 211,16, 212,2, 213,24, 214,0, 215,7, 216,12, 217,0, 218,20, 219,3, 211,5, 213,0, 216,27, 219,10,
220,13, 221,0, 222,8, 223,3, 224,18, 225,0, 226,11, 227,24, 228,0, 229,6, 220,2, 223,27, 226,0, 228,15,
230,0, 231,12, 232,5, 233,22, 234,0, 235,8, 236,17, 237,0, 238,10, 239,3, 240,0, 232,27, 236,2, 239,19,
];

function pairsToPoints(...bands: number[][]) {
  const out: { x: number; y: number }[] = [];
  for (const band of bands) {
    for (let i = 0; i + 1 < band.length; i += 2) {
      out.push({ x: band[i] / 10, y: band[i + 1] / 10000 });
    }
  }
  return out;
}

const rAxesPlugin = {
  id: 'rAxes',
  afterDraw(chart: any) {
    const { ctx, chartArea, scales } = chart;
    const xs = scales.x;
    const ys = scales.y;
    ctx.save();
    ctx.strokeStyle = '#000';
    ctx.lineWidth = 1;
    ctx.beginPath();
    const yb = Math.round(chartArea.bottom) + 0.5;
    ctx.moveTo(Math.round(xs.getPixelForValue(xTickValues[0])), yb);
    ctx.lineTo(Math.round(xs.getPixelForValue(xTickValues[xTickValues.length - 1])) + 1, yb);
    const xl = Math.round(chartArea.left) - 0.5;
    ctx.moveTo(xl, Math.round(ys.getPixelForValue(yTickValues[0])) + 1);
    ctx.lineTo(xl, Math.round(ys.getPixelForValue(yTickValues[yTickValues.length - 1])));
    ctx.stroke();

    ctx.fillStyle = '#000';
    ctx.font = '32px ' + FONT;
    ctx.textAlign = 'center';
    ctx.textBaseline = 'alphabetic';
    yTickValues.forEach((v, i) => {
      const py = ys.getPixelForValue(v);
      ctx.save();
      ctx.translate(chartArea.left - 32, py);
      ctx.rotate(-Math.PI / 2);
      ctx.fillText(yTickLabels[i], 0, 0);
      ctx.restore();
    });
    ctx.restore();
  },
};

export default function App() {
  const ref = useRef<HTMLCanvasElement | null>(null);

  useEffect(() => {
    const canvas = ref.current;
    if (!canvas) return;
    Chart.defaults.font.family = FONT;
    const trend = trendPhase.map((x, i) => ({ x, y: trendA[i] }));
    const threshold = thresholdPhase.map((x, i) => ({ x, y: thresholdA[i] }));
    const scatter = pairsToPoints(topBand, midBand, upperBandExtra, upperBandMore, lowBand, lowBandExtra, lowZoneMore, baseBand, baseBandExtra);

    const chart = new Chart(canvas, {
      type: 'scatter',
      data: {
        datasets: [
          {
            label: 'trend',
            data: trend,
            showLine: true,
            borderColor: '#000',
            borderWidth: 6.5,
            borderCapStyle: 'round',
            borderJoinStyle: 'round',
            pointRadius: 0,
            tension: 0,
            order: 0,
          } as any,
          {
            label: 'threshold',
            data: threshold,
            showLine: true,
            borderColor: '#000',
            borderWidth: 6.5,
            borderDash: [20, 35.6],
            borderCapStyle: 'round',
            pointRadius: 0,
            order: 1,
          } as any,
          {
            label: 'samples',
            data: scatter,
            showLine: false,
            pointRadius: 3.4,
            pointBorderWidth: 0,
            pointBackgroundColor: '#BEBEBE',
            backgroundColor: '#BEBEBE',
            borderWidth: 0,
            order: 2,
          } as any,
        ],
      },
      options: {
        responsive: false,
        animation: false,
        events: [],
        layout: { autoPadding: false, padding: { top: 19, right: 0, bottom: 0, left: 0 } },
        plugins: { legend: { display: false }, tooltip: { enabled: false } },
        scales: {
          x: {
            type: 'linear',
            position: 'bottom',
            min: -0.945,
            max: 24.72,
            afterBuildTicks: (s: any) => {
              s.ticks = xTickValues.map((v) => ({ value: v }));
            },
            afterFit: (s: any) => {
              s.height = 111;
              s.paddingLeft = 0;
              s.paddingRight = 0;
            },
            border: { display: false },
            grid: { display: true, drawOnChartArea: false, drawTicks: true, tickLength: 14, color: '#000', lineWidth: 1 },
            ticks: { font: { size: 32, family: FONT }, color: '#000', padding: 4, maxRotation: 0, autoSkip: false, callback: (v: any) => String(v) },
            title: { display: true, text: xTitle, font: { size: 44, family: FONT }, color: '#000', padding: { top: 0, bottom: 0 } },
          },
          y: {
            type: 'linear',
            position: 'left',
            min: -0.004,
            max: 0.104,
            afterBuildTicks: (s: any) => {
              s.ticks = yTickValues.map((v) => ({ value: v }));
            },
            afterFit: (s: any) => {
              s.width = 123;
            },
            border: { display: false },
            grid: { display: true, drawOnChartArea: false, drawTicks: true, tickLength: 14, color: '#000', lineWidth: 1 },
            ticks: { display: false },
            title: { display: true, text: yTitle, font: { size: 44, family: FONT }, color: '#000', padding: { top: -4, bottom: 0 } },
          },
        },
      } as any,
      plugins: [rAxesPlugin],
    });
    return () => chart.destroy();
  }, []);

  return (
    <div style={{ position: 'fixed', left: 0, top: 0, width: 911, height: 844, background: '#fff' }}>
      <canvas ref={ref} width={911} height={844} style={{ display: 'block', width: 911, height: 844 }} />
    </div>
  );
}
